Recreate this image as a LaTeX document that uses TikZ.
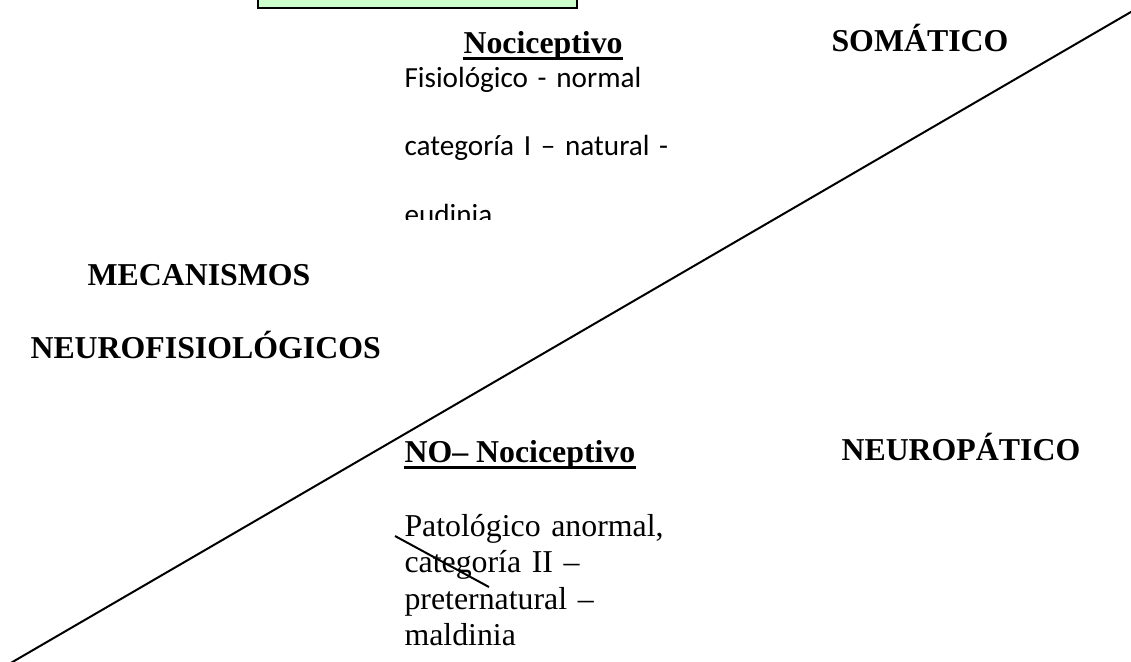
\documentclass[tikz,border=0pt]{standalone}
\usepackage{fontspec}
\setmainfont{Liberation Serif}
\newfontfamily\calibri{Carlito}
\definecolor{boxgreen}{HTML}{CCFFCC}

\begin{document}
\begin{tikzpicture}[x=0.377pt, y=-0.377pt]
    \tikzstyle{title} = [font=\fontsize{12}{14}\selectfont\bfseries, inner sep=0pt, anchor=base west]
    \tikzstyle{sansline} = [font=\calibri\fontsize{11}{13}\selectfont, inner sep=0pt, text width=110pt, align=left, text height=9pt, text depth=3pt, node distance=26pt]
    \tikzstyle{serifline} = [font=\fontsize{12}{14}\selectfont, inner sep=0pt, text width=110pt, align=left, text height=10pt, text depth=3pt, node distance=13.76pt]
    \tikzstyle{greenbox} = [rectangle, draw, fill=boxgreen, line width=0.8pt, minimum width=120pt, minimum height=21pt]
    \tikzstyle{rule} = [line width=0.75pt]
    \tikzstyle{uline} = [line width=1.1pt]

    \useasboundingbox (0,0) rectangle (1131,661);
    \clip (0,0) rectangle (1131,661);

    \node (box) [greenbox] at (417.5,-20) {};

    \node (noci) [title] at (463,53) {Nociceptivo};
    \node (somatico) [title] at (831,51) {SOMÁTICO};
    \node (mecan) [title] at (87,285) {MECANISMOS};
    \node (neurofis) [title] at (30,358) {NEUROFISIOLÓGICOS};
    \node (nonoci) [title] at (404,462) {NO– Nociceptivo};
    \node (neuropat) [title] at (841,460) {NEUROPÁTICO};

    % Nociceptivo
    \begin{scope}
        \clip (380,60) rectangle (720,219);
        \node (fisio) [sansline, anchor=base west] at (404,87) {Fisiológico - normal};
        \node (cat1) [sansline, below of=fisio] {categoría I – natural -};
        \node (eudinia) [sansline, below of=cat1] {eudinia};
    \end{scope}

    % NO- Nociceptivo
    \node (pato) [serifline, anchor=base west] at (404,536) {Patológico anormal,};
    \node (cat2) [serifline, below of=pato] {categoría II –};
    \node (pretern) [serifline, below of=cat2] {preternatural –};
    \node (maldinia) [serifline, below of=pretern] {maldinia};

    % Lines
    \draw [uline] ([yshift=-1.9pt]noci.base west) -- ([yshift=-1.9pt]noci.base east);
    \draw [uline] ([yshift=-1.9pt]nonoci.base west) -- ([yshift=-1.9pt]nonoci.base east);
    \coordinate (diagA) at (9,664);
    \coordinate (diagB) at (1136,9);
    \draw [rule] (diagA) -- (diagB);
    \coordinate (strikeA) at (395,536);
    \coordinate (strikeB) at (489,587);
    \draw [rule] (strikeA) -- (strikeB);
\end{tikzpicture}
\end{document}
